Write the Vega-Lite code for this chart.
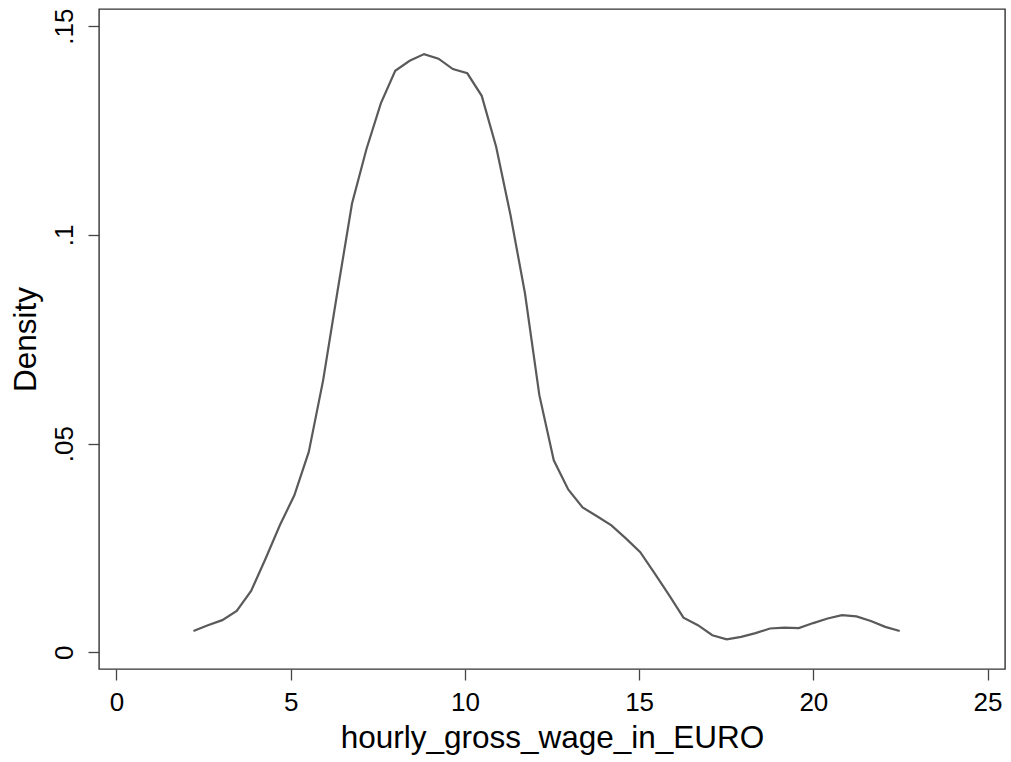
{
  "$schema": "https://vega.github.io/schema/vega-lite/v6.json",
  "width": 906,
  "height": 660,
  "autosize": {"type": "none"},
  "padding": {"left": 99, "top": 9, "right": 6, "bottom": 93},
  "background": "white",
  "config": {
    "view": {"stroke": "#333333", "strokeWidth": 1.4},
    "font": "Liberation Sans"
  },
  "data": {
    "values": [
      {"x": 2.211, "d": 0.0051},
      {"x": 2.625, "d": 0.0065},
      {"x": 3.038, "d": 0.0077},
      {"x": 3.452, "d": 0.0099},
      {"x": 3.865, "d": 0.0147},
      {"x": 4.279, "d": 0.0224},
      {"x": 4.693, "d": 0.0305},
      {"x": 5.106, "d": 0.0376},
      {"x": 5.520, "d": 0.0480},
      {"x": 5.933, "d": 0.0652},
      {"x": 6.347, "d": 0.0866},
      {"x": 6.761, "d": 0.1075},
      {"x": 7.174, "d": 0.1205},
      {"x": 7.588, "d": 0.1315},
      {"x": 8.001, "d": 0.1393},
      {"x": 8.415, "d": 0.1417},
      {"x": 8.829, "d": 0.1433},
      {"x": 9.242, "d": 0.1422},
      {"x": 9.656, "d": 0.1397},
      {"x": 10.069, "d": 0.1387},
      {"x": 10.483, "d": 0.1333},
      {"x": 10.897, "d": 0.1211},
      {"x": 11.310, "d": 0.1047},
      {"x": 11.724, "d": 0.0860},
      {"x": 12.137, "d": 0.0616},
      {"x": 12.551, "d": 0.0460},
      {"x": 12.965, "d": 0.0390},
      {"x": 13.378, "d": 0.0347},
      {"x": 13.792, "d": 0.0326},
      {"x": 14.205, "d": 0.0304},
      {"x": 14.619, "d": 0.0273},
      {"x": 15.033, "d": 0.0240},
      {"x": 15.446, "d": 0.0189},
      {"x": 15.860, "d": 0.0137},
      {"x": 16.273, "d": 0.0083},
      {"x": 16.687, "d": 0.0065},
      {"x": 17.101, "d": 0.0041},
      {"x": 17.514, "d": 0.0031},
      {"x": 17.928, "d": 0.0037},
      {"x": 18.341, "d": 0.0046},
      {"x": 18.755, "d": 0.0057},
      {"x": 19.169, "d": 0.0059},
      {"x": 19.582, "d": 0.0058},
      {"x": 19.996, "d": 0.0070},
      {"x": 20.409, "d": 0.0081},
      {"x": 20.823, "d": 0.0089},
      {"x": 21.237, "d": 0.0086},
      {"x": 21.650, "d": 0.0075},
      {"x": 22.064, "d": 0.0061},
      {"x": 22.478, "d": 0.0051}
    ]
  },
  "mark": {"type": "line", "color": "#5a5a5a", "strokeWidth": 2.2, "clip": true},
  "encoding": {
    "x": {
      "field": "x",
      "type": "quantitative",
      "scale": {"domain": [-0.5, 25.5], "nice": false, "zero": false},
      "axis": {
        "title": "hourly_gross_wage_in_EURO",
        "values": [0, 5, 10, 15, 20, 25],
        "grid": false,
        "domain": false,
        "ticks": true,
        "tickSize": 11,
        "tickColor": "#444444",
        "tickWidth": 1.3,
        "labelFont": "Liberation Sans",
        "labelFontSize": 26,
        "labelColor": "#000000",
        "labelBaseline": "alphabetic",
        "labelPadding": 30,
        "labelFlush": false,
        "titleFont": "Liberation Sans",
        "titleFontSize": 31.5,
        "titleFontWeight": "normal",
        "titleColor": "#000000",
        "titleBaseline": "alphabetic",
        "titleX": 453,
        "titleY": 78
      }
    },
    "y": {
      "field": "d",
      "type": "quantitative",
      "scale": {"domain": [-0.004, 0.1541], "nice": false, "zero": false},
      "axis": {
        "title": "Density",
        "values": [0, 0.05, 0.1, 0.15],
        "labelExpr": "replace(toString(datum.value), '0.', '.')",
        "grid": false,
        "domain": false,
        "ticks": true,
        "tickSize": 11,
        "tickColor": "#444444",
        "tickWidth": 1.3,
        "labelFont": "Liberation Sans",
        "labelFontSize": 26,
        "labelColor": "#000000",
        "labelAngle": 270,
        "labelAlign": "center",
        "labelBaseline": "alphabetic",
        "labelPadding": 16,
        "labelFlush": false,
        "titleFont": "Liberation Sans",
        "titleFontSize": 31.5,
        "titleFontWeight": "normal",
        "titleColor": "#000000",
        "titleAngle": 270,
        "titleAlign": "center",
        "titleBaseline": "alphabetic",
        "titleX": -64,
        "titleY": 330
      }
    }
  }
}
